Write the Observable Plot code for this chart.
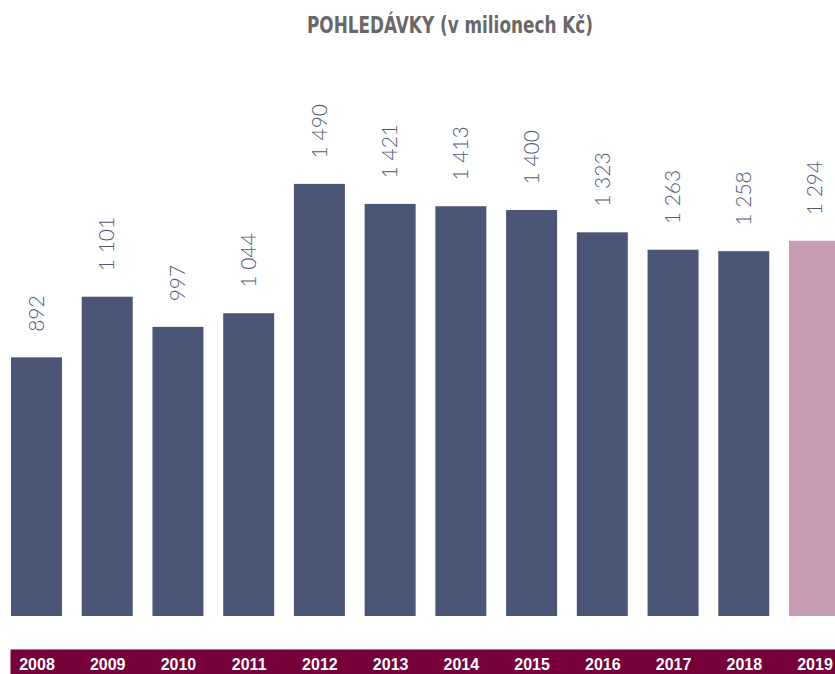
<!DOCTYPE html>
<html>
<head>
<meta charset="utf-8">
<script src="https://cdn.jsdelivr.net/npm/d3@7"></script>
<script src="https://cdn.jsdelivr.net/npm/@observablehq/plot@0.6"></script>
<style>
  html, body { margin: 0; padding: 0; background: white; overflow: hidden; }
  #wrap { position: relative; width: 835px; height: 674px; }
  #title {
    position: absolute; top: 14px; left: 450px; transform-origin: 0 0;
    white-space: nowrap; font-family: "DejaVu Sans", "Liberation Sans", sans-serif;
    font-stretch: condensed; font-weight: bold; font-size: 23px; line-height: 23px; color: #686868;
    z-index: 2;
  }
</style>
</head>
<body>
<div id="wrap">
  <div id="title">POHLEDÁVKY (v milionech Kč)</div>
</div>
<script>
const years = ["2008","2009","2010","2011","2012","2013","2014","2015","2016","2017","2018","2019"];
const values = [892, 1101, 997, 1044, 1490, 1421, 1413, 1400, 1323, 1263, 1258, 1294];
const highlightYear = "2019";

const data = years.map((y, i) => ({year: y, value: values[i]}));
const fmt = d3.formatLocale({decimal: ",", thousands: " ", grouping: [3], currency: ["", " Kč"]}).format(",d");

const chart = Plot.plot({
  width: 835,
  height: 674,
  marginTop: 36,
  marginBottom: 58,
  marginLeft: 11,
  marginRight: 0,
  style: {background: "transparent", overflow: "hidden"},
  x: {domain: years, range: [11, 840], paddingInner: 0.279, paddingOuter: 0, align: 0, round: false, axis: null},
  y: {domain: [0, 2000], axis: null},
  marks: [
    Plot.frame({fill: "#76003a", stroke: null, insetTop: 613, insetBottom: -58, insetLeft: -1}),
    Plot.barY(data, {x: "year", y: "value", fill: d => d.year === highlightYear ? "#c89bb4" : "#4b5577"}),
    Plot.text(data, {
      x: "year", y: "value", text: d => fmt(d.value), rotate: -90, textAnchor: "start",
      dy: -26, fill: "#4f5878", fontSize: 21, fontWeight: 300, fontFamily: "Lato, 'Open Sans', sans-serif"
    }),
    Plot.axisX({
      anchor: "bottom", tickSize: 0, tickPadding: 42, fill: "white", fontSize: 16,
      fontWeight: "bold", fontFamily: "'Liberation Sans', Arial, sans-serif", label: null
    })
  ]
});
const wrap = document.getElementById("wrap");
wrap.appendChild(chart);
chart.style.position = "absolute";
chart.style.top = "0";
chart.style.left = "0";

// fit the condensed title to the reference width, centred at x = 450
const title = document.getElementById("title");
const w = title.getBoundingClientRect().width;
const targetW = 286;
const s = targetW / w;
title.style.left = (450 - targetW / 2) + "px";
title.style.transform = `scaleX(${s})`;
</script>
</body>
</html>
